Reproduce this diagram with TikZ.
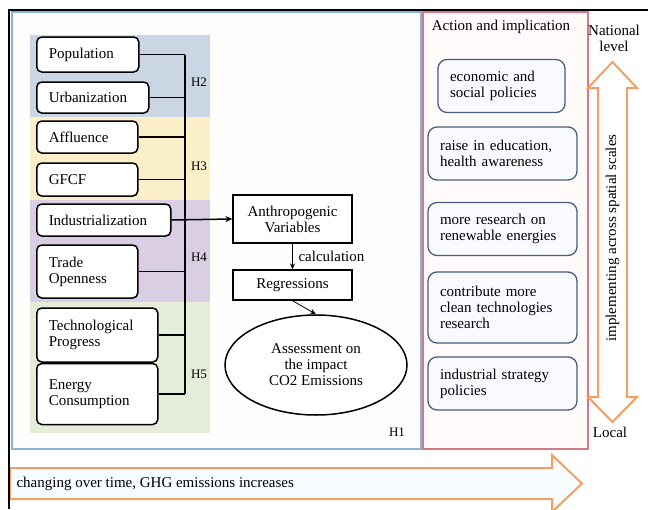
\documentclass[tikz,border=0pt]{standalone}
\usepackage{fontspec}
\setmainfont{Liberation Serif}
\usetikzlibrary{shapes.geometric, arrows.meta, positioning, calc}

\definecolor{bandblue}{RGB}{203,214,229}
\definecolor{bandyellow}{RGB}{250,239,200}
\definecolor{bandpurple}{RGB}{217,206,227}
\definecolor{bandgreen}{RGB}{229,237,216}
\definecolor{frameblue}{RGB}{140,176,212}
\definecolor{framepink}{RGB}{214,120,135}
\definecolor{actline}{RGB}{75,92,125}
\definecolor{actfill}{RGB}{248,250,254}
\definecolor{scaleorange}{RGB}{240,160,100}

\begin{document}
\begin{tikzpicture}[x=1pt, y=-1pt,
    every node/.style={font=\fontsize{15}{16}\selectfont},
    factor/.style={draw, line width=1.5pt, rounded corners=5pt, fill=white, anchor=west, align=left, inner xsep=12pt, inner ysep=1pt},
    model/.style={draw, line width=1.3pt, fill=white, align=center, minimum width=119pt, inner sep=1pt},
    action/.style={draw=actline, line width=1.3pt, rounded corners=9pt, fill=actfill, align=left, inner xsep=12pt, inner ysep=1pt, text width=125pt, minimum height=53pt},
    hyp/.style={font=\fontsize{13}{13}\selectfont},
    bigarrow/.style={draw=scaleorange, line width=2pt, fill=white}
]
\useasboundingbox (0,0) rectangle (648,509);
\draw[frameblue, line width=1.5pt, fill={rgb,255:red,254;green,254;blue,252}] (12,12) rectangle (421,449);
\draw[framepink, line width=1.5pt, fill={rgb,255:red,255;green,251;blue,251}] (423,12) rectangle (588,449);
\fill[bandblue] (30,35) rectangle (210,117);
\fill[bandyellow] (30,117) rectangle (210,200);
\fill[bandpurple] (30,200) rectangle (210,302);
\fill[bandgreen] (30,302) rectangle (210,433);

\node[factor, text width=78pt, minimum height=35pt] (pop) at (36,54.5) {Population};
\node[factor, text width=88pt, minimum height=31pt] (urb) at (36,97.5) {Urbanization};
\node[factor, text width=77pt, minimum height=32pt] (aff) at (36,137) {Affluence};
\node[factor, text width=77pt, minimum height=33pt] (gfcf) at (36,179.5) {GFCF};
\node[factor, text width=110pt, minimum height=32pt] (ind) at (36,220) {Industrialization};
\node[factor, text width=77pt, minimum height=53pt] (trade) at (36,271.5) {Trade\\Openness};
\node[factor, text width=97pt, minimum height=54pt] (tech) at (36,335) {Technological\\Progress};
\node[factor, text width=97pt, minimum height=61pt] (energy) at (36,394) {Energy\\Consumption};

\coordinate (bus) at (185,0);
\foreach \f in {pop,urb,aff,gfcf,trade,tech,energy}
    \draw[line width=1.5pt] (\f.east) -- (\f.east -| bus);
\draw[line width=1.5pt] (pop.east -| bus) -- (energy.east -| bus);

\node[hyp] (h2) at (199,82) {H2};
\node[hyp] (h3) at (199,166) {H3};
\node[hyp] (h4) at (199,257) {H4};
\node[hyp] (h5) at (199,374) {H5};
\node[hyp] (h1) at (397,432) {H1};

\node[model, minimum height=48pt] (anthro) at (292.5,219) {Anthropogenic\\Variables};
\node[model, minimum height=30pt] (regr) at (292.5,285) {Regressions};
\node[draw, ellipse, line width=1.5pt, fill=white, minimum width=182pt, minimum height=100pt, align=center, inner sep=0pt] (assess) at (316,365) {Assessment on\\the impact\\CO2 Emissions};
\draw[line width=1.5pt, -{Stealth[length=7pt, width=6pt]}] (ind.east) -- (anthro.west);
\draw[line width=1.5pt, -{Stealth[length=6pt, width=5pt]}] (anthro.south) -- node[right, xshift=2pt] (calc) {calculation} (regr.north);
\draw[line width=0.8pt, -{Stealth[length=6pt, width=5pt]}] (regr.south) -- (assess.north);

\node (acttitle) at (501,27) {Action and implication};
\node[action, text width=103pt] (econ) at (501.5,86) {economic and\\social policies};
\node[action] (edu) at (502.5,153.5) {raise in education,\\health awareness};
\node[action] (renew) at (502.5,229) {more research on\\renewable energies};
\node[action, minimum height=71pt] (clean) at (502.5,307.5) {contribute more\\clean technologies\\research};
\node[action] (indpol) at (502.5,383.5) {industrial strategy\\policies};

\draw[bigarrow] (598,88) -- (588,88) -- (612.5,62) -- (637,88) -- (627,88) -- (627,397) -- (637,397) -- (612.5,422) -- (588,397) -- (598,397) -- cycle;
\node[rotate=90] (spatial) at (612.5,238) {implementing across spatial scales};
\node[align=center] (national) at (614,38) {National\\level};
\node (local) at (610,432) {Local};

\draw[bigarrow, fill={rgb,255:red,248;green,251;blue,255}] (10,468) -- (552,468) -- (552,455) -- (582,483.5) -- (552,512) -- (552,499) -- (10,499) -- cycle;
\node[anchor=west] (trend) at (13,484) {changing over time, GHG emissions increases};

\draw[line width=2.5pt] (648,10) -- (9,10) -- (9,509);
\end{tikzpicture}
\end{document}
